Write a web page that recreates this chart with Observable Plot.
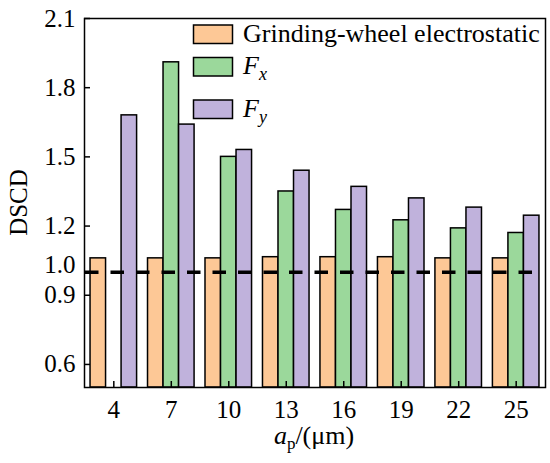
<!DOCTYPE html>
<html><head><meta charset="utf-8">
<script src="https://cdn.jsdelivr.net/npm/d3@7"></script>
<script src="https://cdn.jsdelivr.net/npm/@observablehq/plot@0.6"></script>
<style>
body{margin:0;background:#fff}
svg, svg text, svg tspan{font-family:"Liberation Serif",Tinos,"Times New Roman",Times,"DejaVu Serif","Noto Serif",serif !important}
</style>
</head><body><div id="chart"></div>
<script>
const categories = [4, 7, 10, 13, 16, 19, 22, 25];
const electrostatic = [1.06, 1.06, 1.06, 1.065, 1.065, 1.065, 1.06, 1.06];
const forceX = [null, 1.91, 1.50, 1.35, 1.27, 1.225, 1.19, 1.17];
const forceY = [1.68, 1.64, 1.53, 1.44, 1.37, 1.32, 1.28, 1.245];
const yTicks = [0.6, 0.9, 1.2, 1.5, 1.8, 2.1];
const yDomain = [0.5, 2.1];
const reference = 1.0;
const colors = ["#FDC896", "#9BD89B", "#C0B2DC"];

const W = 550, H = 463, mL = 84, mR = 5, mT = 18, mB = 76;
const padIn = 0.19, padOut = 0.105;
const step = (W - mL - mR) / (categories.length - padIn + 2 * padOut);
const bw = step * (1 - padIn);
const sub = bw / 3;
const tickFont = 25;
const serif = "'Liberation Serif', Tinos, 'Times New Roman', Times, 'DejaVu Serif', serif";

const rows = categories.map((c, i) => ({c: String(c), e: electrostatic[i], fx: forceX[i], fy: forceY[i]}));
const fmt = d3.format(".1f");

const plot = Plot.plot({
  width: W, height: H,
  marginLeft: mL, marginRight: mR, marginTop: mT, marginBottom: mB,
  style: `font-family: ${serif}; font-size: 25px; background: white; color: black; overflow: visible;`,
  x: {type: "band", domain: categories.map(String), paddingInner: padIn, paddingOuter: padOut, round: false, label: null},
  y: {domain: yDomain, label: null},
  marks: [
    Plot.barY(rows, {x: "c", y1: yDomain[0], y2: "e", fill: colors[0], stroke: "black", strokeWidth: 1.5, insetLeft: 0, insetRight: 2 * sub}),
    Plot.barY(rows.filter(d => d.fx != null), {x: "c", y1: yDomain[0], y2: "fx", fill: colors[1], stroke: "black", strokeWidth: 1.5, insetLeft: sub, insetRight: sub}),
    Plot.barY(rows, {x: "c", y1: yDomain[0], y2: "fy", fill: colors[2], stroke: "black", strokeWidth: 1.5, insetLeft: 2 * sub, insetRight: 0}),
    Plot.ruleY([reference], {stroke: "black", strokeWidth: 3.5, strokeDasharray: "13.5,12", insetLeft: 1, insetRight: 12}),
    Plot.frame({stroke: "black", strokeWidth: 1.5}),
    Plot.axisY({ticks: yTicks, tickSize: 6, dx: 6, tickPadding: 9, tickFormat: fmt, label: null, strokeWidth: 1.5, fontSize: tickFont, fontFamily: serif}),
    Plot.text([reference], {y: d => d, frameAnchor: "left", dx: -9, dy: -7, textAnchor: "end", text: d => fmt(d), fontSize: tickFont, fontFamily: serif}),
    Plot.axisX({tickSize: 6, dy: -6, tickPadding: 13, label: null, strokeWidth: 1.5, fontSize: tickFont, fontFamily: serif})
  ]
});

document.getElementById("chart").appendChild(plot);
const svg = d3.select(plot);

// y-axis title
svg.append("text")
  .attr("transform", "translate(18,202.5) rotate(-90)")
  .attr("text-anchor", "middle").attr("dominant-baseline", "central")
  .attr("font-family", serif)
  .attr("font-size", 25).attr("fill", "black").text("DSCD");

// x-axis title: a_p/(μm)
const xt = svg.append("text").attr("x", 314).attr("y", 444)
  .attr("text-anchor", "middle").attr("font-family", serif).attr("font-size", 26).attr("fill", "black");
xt.append("tspan").attr("font-style", "italic").text("a");
xt.append("tspan").attr("font-size", 17).attr("dy", 5).text("p");
xt.append("tspan").attr("dy", -5).text("/(μm)");

// legend
const legendItems = [
  {name: ["Grinding-wheel electrostatic"], y: 25},
  {name: ["F", "x"], y: 57.5},
  {name: ["F", "y"], y: 100}
];
legendItems.forEach((it, i) => {
  svg.append("rect").attr("x", 193.5).attr("y", it.y).attr("width", 39).attr("height", 18.5)
    .attr("fill", colors[i]).attr("stroke", "black").attr("stroke-width", 1.5);
  const t = svg.append("text").attr("x", 243).attr("y", it.y + 16.5)
    .attr("text-anchor", "start").attr("font-family", serif).attr("font-size", 26).attr("fill", "black");
  if (it.name.length === 1) {
    t.text(it.name[0]);
  } else {
    t.append("tspan").attr("font-style", "italic").text(it.name[0]);
    t.append("tspan").attr("font-style", "italic").attr("font-size", 18).attr("dy", 6).text(it.name[1]);
  }
});
</script>
</body></html>
